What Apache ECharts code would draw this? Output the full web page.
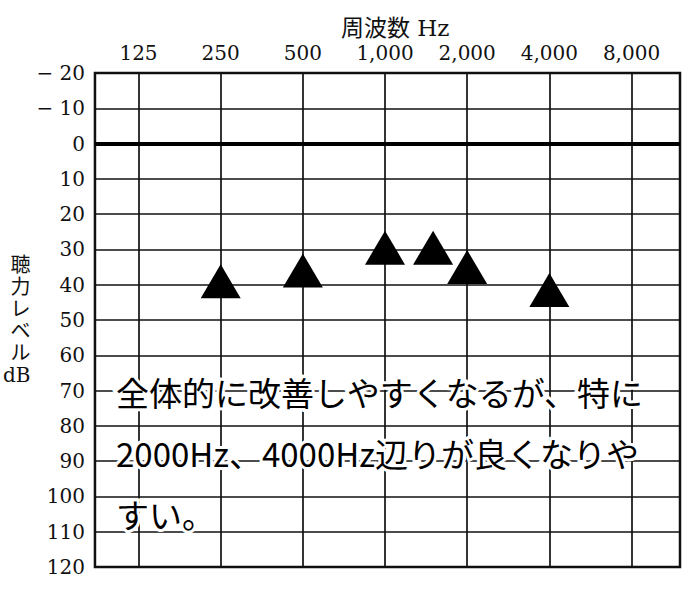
<!DOCTYPE html>
<html>
<head>
<meta charset="utf-8">
<script src="https://cdn.jsdelivr.net/npm/echarts@6/dist/echarts.min.js"></script>
<style>html,body{margin:0;padding:0;background:#fff;}#c{width:700px;height:589px;}</style>
</head>
<body>
<div id="c"></div>
<script>
// Frequency grid (Hz) and top tick labels
var gridFreqs = [125, 250, 500, 1000, 2000, 4000, 8000];
var freqLabels = ['125', '250', '500', '1,000', '2,000', '4,000', '8,000'];
// Measured points (Hz, dB)
var pointFreqs = [250, 500, 1000, 1500, 2000, 4000];
var pointLevels = [39, 36, 29.5, 29.5, 35, 41.5];
// Y ticks
var yMin = -20, yMax = 120, yStep = 10;
var titleText = '周波数 Hz';
var yName = '聴\n力\nレ\nベ\nル\ndB';
var noteLines = ['全体的に改善しやすくなるが、特に', '2000Hz、4000Hz辺りが良くなりや', 'すい。'];

function oct(f) { return Math.log2(f / 125); }
var gridPos = gridFreqs.map(oct);
var labelByPos = {};
gridPos.forEach(function (p, i) { labelByPos[p.toFixed(4)] = freqLabels[i]; });

var chart = echarts.init(document.getElementById('c'), null, { renderer: 'svg' });
var serif = 'DejaVu Serif, Noto Sans CJK JP';
var option = {
  animation: false,
  backgroundColor: '#fff',
  title: {
    text: titleText, left: 336, top: 11,
    textStyle: { fontFamily: serif, fontSize: 23, fontWeight: 'normal', color: '#111' }
  },
  grid: { left: 90, right: 20, top: 73, bottom: 22, show: true, borderColor: '#111', borderWidth: 2.5, backgroundColor: 'transparent' },
  xAxis: {
    type: 'value', position: 'top', min: -0.53, max: 6.59,
    axisLine: { show: false }, splitLine: { show: false },
    axisTick: { show: false },
    axisLabel: {
      customValues: gridPos, margin: 10,
      fontFamily: serif, fontSize: 20, color: '#111',
      formatter: function (v) { return labelByPos[v.toFixed(4)] || ''; }
    }
  },
  yAxis: {
    type: 'value', inverse: true, min: yMin, max: yMax, interval: yStep,
    name: yName, nameLocation: 'middle', nameGap: 62, nameRotate: 0,
    nameTextStyle: { fontFamily: serif, fontSize: 20, lineHeight: 22, color: '#111' },
    axisLine: { show: false }, axisTick: { show: false },
    axisLabel: {
      margin: 10, fontFamily: serif, fontSize: 20, color: '#111',
      formatter: function (v) { return v < 0 ? '\u2212 ' + (-v) : String(v); }
    },
    splitLine: { show: true, lineStyle: { color: '#111', width: 1.7 } }
  },
  series: [{
    type: 'scatter', symbol: 'triangle', symbolSize: [40, 34],
    itemStyle: { color: '#000', opacity: 1 }, z: 5,
    data: pointFreqs.map(function (f, i) { return [oct(f), pointLevels[i]]; }),
    markLine: {
      silent: true, symbol: 'none', animation: false, label: { show: false },
      lineStyle: { color: '#111', width: 1.7, type: 'solid', opacity: 1 },
      data: gridPos.map(function (p) { return { xAxis: p }; }).concat([
        { yAxis: 0, lineStyle: { width: 4, color: '#000' } }
      ])
    }
  }],
  graphic: noteLines.map(function (t, i) {
    return {
      type: 'text', z: 100, left: 113, top: 372 + i * 61,
      style: {
        text: t, fontFamily: 'Noto Sans CJK JP', fontSize: 33, fill: '#000',
        stroke: '#fff', lineWidth: 6
      }
    };
  })
};
chart.setOption(option);
</script>
</body>
</html>
